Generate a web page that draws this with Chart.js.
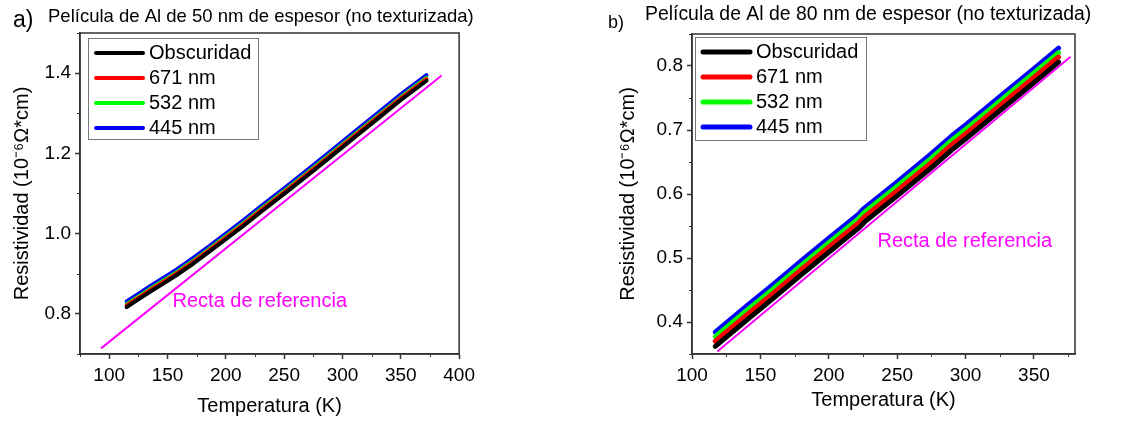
<!DOCTYPE html>
<html>
<head>
<meta charset="utf-8">
<script src="https://cdn.jsdelivr.net/npm/chart.js@4.4.0/dist/chart.umd.min.js"></script>
<style>
  body { margin: 0; background: #fff; width: 1136px; height: 423px; position: relative; overflow: hidden; }
  canvas { position: absolute; top: 0; }
  #chartA { left: 0; }
  #chartB { left: 606px; }
</style>
</head>
<body>
<canvas id="chartA" width="480" height="423"></canvas>
<canvas id="chartB" width="530" height="423"></canvas>
<script>
// a) pelicula de 50 nm
const tempA = [115, 125, 135, 145, 157, 170, 185, 200, 215, 230, 250, 270, 290, 310, 330, 350, 372];
const oscA  = [0.817, 0.836, 0.855, 0.873, 0.895, 0.921, 0.953, 0.986, 1.019, 1.054, 1.099, 1.145, 1.192, 1.239, 1.286, 1.333, 1.381];
const r671A = [0.821, 0.840, 0.859, 0.877, 0.899, 0.925, 0.957, 0.990, 1.023, 1.058, 1.103, 1.149, 1.196, 1.243, 1.290, 1.337, 1.385];
const g532A = [0.824, 0.843, 0.862, 0.880, 0.902, 0.928, 0.960, 0.993, 1.026, 1.061, 1.106, 1.152, 1.199, 1.246, 1.293, 1.340, 1.388];
const b445A = [0.831, 0.850, 0.869, 0.887, 0.909, 0.935, 0.967, 1.000, 1.033, 1.068, 1.113, 1.159, 1.206, 1.253, 1.300, 1.347, 1.395];
const refTA = [93, 385];
const refA  = [0.714, 1.394];
const xTicksA = [100, 150, 200, 250, 300, 350, 400];
const yTicksA = [0.8, 1.0, 1.2, 1.4];

// b) pelicula de 80 nm
const tempB = [117, 140, 160, 180, 200, 222, 226, 250, 275, 290, 300, 325, 350, 368];
const oscB  = [0.362, 0.403, 0.438, 0.474, 0.509, 0.547, 0.556, 0.597, 0.641, 0.669, 0.686, 0.730, 0.774, 0.806];
const r671B = [0.370, 0.411, 0.446, 0.482, 0.517, 0.555, 0.564, 0.605, 0.649, 0.677, 0.694, 0.738, 0.782, 0.814];
const g532B = [0.377, 0.418, 0.453, 0.489, 0.524, 0.562, 0.571, 0.612, 0.656, 0.684, 0.701, 0.745, 0.789, 0.821];
const b445B = [0.384, 0.425, 0.460, 0.496, 0.531, 0.569, 0.578, 0.619, 0.663, 0.691, 0.708, 0.752, 0.796, 0.828];
const refTB = [118.5, 376.7];
const refB  = [0.354, 0.8145];
const xTicksB = [100, 150, 200, 250, 300, 350];
const yTicksB = [0.4, 0.5, 0.6, 0.7, 0.8];

const seriesNames = ['Obscuridad', '671 nm', '532 nm', '445 nm'];
const seriesColors = ['#000000', '#ff0000', '#00ff00', '#0000ff'];

Chart.defaults.font.family = "'Liberation Sans', Arial, sans-serif";
Chart.defaults.color = '#000';

const pts = (xs, ys) => xs.map((x, i) => ({ x: x, y: ys[i] }));

// marco, ticks menores, leyenda y textos
const extras = {
  id: 'extras',
  afterDraw(chart, args, o) {
    const { ctx, chartArea: a, scales: { x, y } } = chart;
    ctx.save();
    ctx.strokeStyle = '#333';
    ctx.lineWidth = 1.5;
    ctx.strokeRect(a.left, a.top, a.right - a.left, a.bottom - a.top);

    const minor = (scale, fn) => {
      const t = scale.ticks.map(k => k.value);
      const step = t[1] - t[0];
      for (let v = t[0] - step / 2; v <= scale.max + 1e-9; v += step) {
        if (v < scale.min - 1e-9) continue;
        fn(Math.round(scale.getPixelForValue(v)) + 0.5);
      }
    };
    ctx.lineWidth = 1;
    ctx.beginPath();
    minor(x, px => { ctx.moveTo(px, a.bottom); ctx.lineTo(px, a.bottom + 3); });
    minor(y, py => { ctx.moveTo(a.left, py); ctx.lineTo(a.left - 3, py); });
    ctx.stroke();

    // leyenda
    const lg = o.legend;
    const x0 = a.left + lg.dx, y0 = a.top + lg.dy;
    ctx.fillStyle = '#fff';
    ctx.fillRect(x0, y0, lg.w, lg.h);
    ctx.strokeStyle = '#777';
    ctx.lineWidth = 1;
    ctx.strokeRect(x0 + 0.5, y0 + 0.5, lg.w, lg.h);
    ctx.font = lg.font;
    ctx.textBaseline = 'middle';
    chart.data.datasets.slice(0, 4).forEach((d, i) => {
      const yy = y0 + 15 + i * 25;
      ctx.strokeStyle = d.borderColor;
      ctx.lineWidth = lg.lw;
      ctx.lineCap = 'round';
      ctx.beginPath();
      ctx.moveTo(x0 + 8, yy);
      ctx.lineTo(x0 + 55, yy);
      ctx.stroke();
      ctx.fillStyle = '#000';
      ctx.fillText(d.label, x0 + 61, yy);
    });

    // texto de la recta
    const n = o.note;
    ctx.fillStyle = '#ff00ff';
    ctx.font = n.font;
    ctx.fillText(n.text, x.getPixelForValue(n.x), y.getPixelForValue(n.y));

    // titulos
    ctx.textBaseline = 'alphabetic';
    ctx.fillStyle = '#000';
    o.titles.forEach(t => {
      ctx.font = t.font;
      ctx.fillText(t.text, t.x, t.y);
    });
    ctx.restore();
  }
};

function makeChart(id, d) {
  const datasets = d.series.map((ys, i) => ({
    label: seriesNames[i],
    data: pts(d.temps, ys),
    borderColor: seriesColors[i],
    borderWidth: d.lw,
    borderCapStyle: 'round',
    borderJoinStyle: 'round'
  }));
  datasets.push({
    label: 'Recta de referencia',
    data: pts(d.refT, d.ref),
    borderColor: '#ff00ff',
    borderWidth: 2
  });

  const axisBase = {
    type: 'linear',
    border: { display: true, color: '#333', width: 1.5 },
    grid: { display: true, drawOnChartArea: false, drawTicks: true, tickLength: 5, tickColor: '#333', tickWidth: 1.5 },
  };

  return new Chart(document.getElementById(id), {
    type: 'line',
    data: { datasets: datasets },
    plugins: [extras],
    options: {
      responsive: false,
      animation: false,
      devicePixelRatio: 1,
      layout: { padding: d.padding },
      elements: { point: { radius: 0 }, line: { tension: 0 } },
      plugins: {
        legend: { display: false },
        tooltip: { enabled: false },
        extras: { legend: d.legend, note: d.note, titles: d.titles }
      },
      scales: {
        x: Object.assign({}, axisBase, {
          min: d.xr[0], max: d.xr[1],
          afterBuildTicks: s => { s.ticks = d.xTicks.map(v => ({ value: v })); },
          afterFit: s => { s.height = 69; },
          ticks: { font: { size: 19 }, padding: 5, maxRotation: 0, callback: v => String(v) },
          title: { display: true, text: 'Temperatura (K)', font: { size: 20 }, padding: { bottom: d.xTitlePad } }
        }),
        y: Object.assign({}, axisBase, {
          min: d.yr[0], max: d.yr[1],
          afterBuildTicks: s => { s.ticks = d.yTicks.map(v => ({ value: v })); },
          afterFit: s => { s.width = d.yWidth; },
          ticks: { font: { size: 19 }, padding: 4, callback: v => v.toFixed(1) },
          title: { display: true, text: 'Resistividad (10⁻⁶Ω*cm)', font: { size: 20 }, padding: { top: 10 } }
        })
      }
    }
  });
}

makeChart('chartA', {
  temps: tempA, series: [oscA, r671A, g532A, b445A], refT: refTA, ref: refA,
  lw: 4, xr: [75, 400], yr: [0.7, 1.5], xTicks: xTicksA, yTicks: yTicksA,
  padding: { left: 0, top: 33, right: 17, bottom: 0 }, yWidth: 80, xTitlePad: 5,
  legend: { dx: 8, dy: 5, w: 170, h: 101, lw: 4, font: "20px 'Liberation Sans', Arial, sans-serif" },
  note: { text: 'Recta de referencia', x: 154.3, y: 0.832, font: "20px 'Liberation Sans', Arial, sans-serif" },
  titles: [
    { text: 'a)', x: 13, y: 27, font: "23px 'Liberation Sans', Arial, sans-serif" },
    { text: 'Película de Al de 50 nm de espesor (no texturizada)', x: 48, y: 22, font: "18.5px 'Liberation Sans', Arial, sans-serif" }
  ]
});

makeChart('chartB', {
  temps: tempB, series: [oscB, r671B, g532B, b445B], refT: refTB, ref: refB,
  lw: 5, xr: [100, 380], yr: [0.35, 0.85], xTicks: xTicksB, yTicks: yTicksB,
  padding: { left: 0, top: 34, right: 61, bottom: 0 }, yWidth: 86, xTitlePad: 11,
  legend: { dx: 3, dy: 3, w: 171, h: 103, lw: 5, font: "20px 'Liberation Sans', Arial, sans-serif" },
  note: { text: 'Recta de referencia', x: 235.6, y: 0.526, font: "20px 'Liberation Sans', Arial, sans-serif" },
  titles: [
    { text: 'b)', x: 2, y: 28, font: "18px 'Liberation Sans', Arial, sans-serif" },
    { text: 'Película de Al de 80 nm de espesor (no texturizada)', x: 39, y: 20, font: "19.4px 'Liberation Sans', Arial, sans-serif" }
  ]
});
</script>
</body>
</html>
